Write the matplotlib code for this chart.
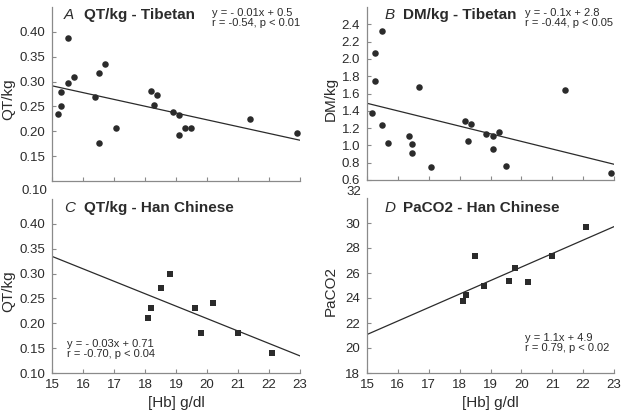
import matplotlib
matplotlib.use("Agg")
import matplotlib.pyplot as plt

plt.rcParams['font.family'] = ['Liberation Sans', 'DejaVu Sans']

W, H = 626, 418
INK = '#2b2b2b'
AXC = '#8a8a8a'

# Tibetan data, panels A and B
hb_tib = [15.19, 15.29, 15.29, 15.50, 15.50, 15.70, 16.39, 16.50, 16.50, 16.70, 17.08,
          18.19, 18.28, 18.39, 18.89, 19.09, 19.09, 19.29, 19.49, 21.39, 22.89]
qt_tib = [0.234, 0.250, 0.280, 0.387, 0.298, 0.310, 0.268, 0.318, 0.176, 0.335, 0.207,
          0.281, 0.252, 0.272, 0.238, 0.233, 0.192, 0.207, 0.207, 0.225, 0.197]
hb_tib_b = [15.17, 15.26, 15.26, 15.48, 15.48, 15.68, 16.37, 16.47, 16.47, 16.68, 17.08,
            18.18, 18.28, 18.38, 18.87, 19.08, 19.08, 19.28, 19.49, 21.40, 22.90]
dm_tib = [1.378, 2.071, 1.750, 2.319, 1.235, 1.026, 1.111, 1.018, 0.910, 1.676, 0.755,
          1.282, 1.049, 1.247, 1.130, 1.107, 0.960, 1.157, 0.759, 1.645, 0.677]

# Han Chinese data, panels C and D
hb_han = [18.1, 18.2, 18.5, 18.8, 19.6, 19.8, 20.2, 21.0, 22.1]
qt_han = [0.21, 0.23, 0.27, 0.30, 0.23, 0.18, 0.24, 0.18, 0.14]
paco2_han = [23.76, 24.27, 27.38, 24.99, 25.39, 26.38, 25.29, 27.38, 29.65]

# regression lines as drawn (values at Hb = 15 and 23)
fit_x = [15, 23]
fit_a = [0.2915, 0.182]
fit_b = [1.487, 0.782]
fit_c = [0.3346, 0.1344]
fit_d = [21.08, 29.71]

xticks = [15, 16, 17, 18, 19, 20, 21, 22, 23]
qt_ticks = [0.15, 0.20, 0.25, 0.30, 0.35, 0.40]
qt_ticks_c = [0.10, 0.15, 0.20, 0.25, 0.30, 0.35, 0.40]
dm_ticks = [0.6, 0.8, 1.0, 1.2, 1.4, 1.6, 1.8, 2.0, 2.2, 2.4]
pa_ticks = [18, 20, 22, 24, 26, 28, 30]

fig = plt.figure(figsize=(W / 100, H / 100), dpi=100)


def px_axes(l, t, r, b):
    return fig.add_axes([l / W, 1 - b / H, (r - l) / W, (b - t) / H])


def ftext(x, y, s, **kw):
    kw.setdefault('color', INK)
    fig.text(x / W, 1 - y / H, s, **kw)


def style(ax, ylim, yticks, yfmt, show_x):
    ax.set_xlim(15, 23)
    ax.set_ylim(*ylim)
    for s in ['top', 'right']:
        ax.spines[s].set_visible(False)
    for s in ['left', 'bottom']:
        ax.spines[s].set_color(AXC)
        ax.spines[s].set_linewidth(0.9)
    ax.set_xticks(xticks)
    ax.set_yticks(yticks)
    ax.set_yticklabels([yfmt.format(v) for v in yticks])
    ax.tick_params(axis='x', direction='in', length=3, color=AXC, labelsize=9.5,
                   labelcolor=INK, pad=4, labelbottom=show_x)
    ax.tick_params(axis='y', direction='in', length=3, color=AXC, labelsize=9.5,
                   labelcolor=INK, pad=5)
    ax.patch.set_alpha(0)


axA = px_axes(52, 7, 300, 181)
axB = px_axes(367, 7, 614, 180)
axC = px_axes(52, 199, 300, 373)
axD = px_axes(367, 198, 614, 373)

# A
axA.scatter(hb_tib, qt_tib, s=22, color=INK, zorder=3, linewidths=0)
axA.plot(fit_x, fit_a, color=INK, lw=0.9)
style(axA, (0.10, 0.45), qt_ticks, '{:.2f}', False)
axA.set_ylabel('QT/kg', fontsize=11, color=INK)
axA.yaxis.set_label_coords(-0.149, 0.47)

# B
axB.scatter(hb_tib_b, dm_tib, s=22, color=INK, zorder=3, linewidths=0)
axB.plot(fit_x, fit_b, color=INK, lw=0.9)
style(axB, (0.6, 2.6), dm_ticks, '{:.1f}', False)
axB.set_ylabel('DM/kg', fontsize=11, color=INK)
axB.yaxis.set_label_coords(-0.117, 0.47)

# C
axC.scatter(hb_han, qt_han, s=16, marker='s', color=INK, zorder=3, linewidths=0)
axC.plot(fit_x, fit_c, color=INK, lw=0.9)
style(axC, (0.10, 0.45), qt_ticks_c, '{:.2f}', True)
axC.set_ylabel('QT/kg', fontsize=11, color=INK)
axC.yaxis.set_label_coords(-0.149, 0.47)
axC.set_xlabel('[Hb] g/dl', fontsize=11, color=INK, labelpad=4)

# D
axD.scatter(hb_han, paco2_han, s=16, marker='s', color=INK, zorder=3, linewidths=0)
axD.plot(fit_x, fit_d, color=INK, lw=0.9)
style(axD, (18, 32), pa_ticks, '{:d}', True)
axD.set_ylabel('PaCO2', fontsize=11, color=INK)
axD.yaxis.set_label_coords(-0.117, 0.47)
axD.set_xlabel('[Hb] g/dl', fontsize=11, color=INK, labelpad=4)

# stray labels between the rows
ftext(47, 191, '0.10', fontsize=9.5, ha='right', va='center')
ftext(361, 192, '32', fontsize=9.5, ha='right', va='center')

# panel titles
ftext(64, 15, 'A', fontsize=11, style='italic', va='center')
ftext(84, 15, 'QT/kg - Tibetan', fontsize=11, weight='bold', va='center')
ftext(385, 15, 'B', fontsize=11, style='italic', va='center')
ftext(403, 15, 'DM/kg - Tibetan', fontsize=11, weight='bold', va='center')
ftext(64, 208, 'C', fontsize=11, style='italic', va='center')
ftext(84, 208, 'QT/kg - Han Chinese', fontsize=11, weight='bold', va='center')
ftext(385, 208, 'D', fontsize=11, style='italic', va='center')
ftext(403, 208, 'PaCO2 - Han Chinese', fontsize=11, weight='bold', va='center')

# regression equations
ftext(212, 13, 'y = - 0.01x + 0.5', fontsize=8, va='center')
ftext(212, 23, 'r = -0.54, p < 0.01', fontsize=8, va='center')
ftext(525, 13, 'y = - 0.1x + 2.8', fontsize=8, va='center')
ftext(525, 23, 'r = -0.44, p < 0.05', fontsize=8, va='center')
ftext(67, 344, 'y = - 0.03x + 0.71', fontsize=8, va='center')
ftext(67, 354, 'r = -0.70, p < 0.04', fontsize=8, va='center')
ftext(525, 338, 'y = 1.1x + 4.9', fontsize=8, va='center')
ftext(525, 348, 'r = 0.79, p < 0.02', fontsize=8, va='center')

fig.savefig('out.png', dpi=100)
